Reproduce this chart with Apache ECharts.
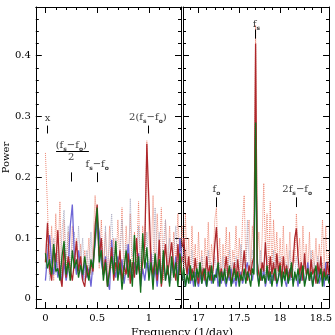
<!DOCTYPE html>
<html>
<head>
<meta charset="utf-8">
<script src="https://cdn.jsdelivr.net/npm/echarts@6/dist/echarts.min.js"></script>
<style>
html, body { margin: 0; padding: 0; background: #fff; }
#chart { width: 335px; height: 335px; }
</style>
</head>
<body>
<div id="chart"></div>
<script>
// frequency grids (1/day), sampled every 0.02
var leftStart = 0, rightStart = 16.8, step = 0.02;

// left panel: low frequencies 0 .. 1.32
var leftRedDotted = [
  0.24,0.15,0.04,0.12,0.03,0.14,0.05,0.16,0.02,0.13,
  0.05,0.11,0.03,0.12,0.06,0.1,0.04,0.09,0.03,0.08,
  0.05,0.1,0.04,0.09,0.17,0.12,0.05,0.13,0.04,0.11,
  0.03,0.12,0.05,0.1,0.04,0.13,0.06,0.15,0.03,0.12,
  0.05,0.14,0.04,0.11,0.06,0.16,0.03,0.12,0.07,0.26,
  0.1,0.05,0.17,0.04,0.14,0.06,0.15,0.03,0.13,0.05,
  0.12,0.04,0.11,0.06,0.14,0.05,0.12];
var leftGreyDotted = [
  0.05,0.09,0.03,0.07,0.1,0.04,0.08,0.03,0.11,0.146,
  0.06,0.12,0.05,0.09,0.11,0.04,0.12,0.06,0.1,0.03,
  0.08,0.05,0.11,0.04,0.09,0.13,0.06,0.1,0.04,0.12,
  0.05,0.09,0.14,0.06,0.1,0.04,0.08,0.13,0.05,0.09,
  0.03,0.165,0.07,0.1,0.04,0.12,0.06,0.09,0.05,0.11,
  0.04,0.08,0.06,0.15,0.05,0.11,0.04,0.09,0.13,0.05,
  0.1,0.03,0.08,0.12,0.05,0.1,0.07];
var leftRed = [
  0.06,0.125,0.05,0.03,0.085,0.06,0.113,0.04,0.02,0.09,
  0.035,0.07,0.05,0.03,0.06,0.095,0.045,0.07,0.03,0.02,
  0.055,0.035,0.06,0.045,0.12,0.155,0.07,0.1,0.04,0.065,
  0.02,0.05,0.085,0.03,0.06,0.045,0.08,0.03,0.055,0.04,
  0.075,0.025,0.06,0.035,0.1,0.05,0.03,0.06,0.09,0.255,
  0.16,0.06,0.04,0.07,0.03,0.097,0.02,0.05,0.09,0.04,
  0.065,0.093,0.05,0.03,0.09,0.04,0.07];
var leftBlue = [
  0.03,0.07,0.105,0.06,0.04,0.075,0.035,0.055,0.025,0.06,
  0.03,0.05,0.12,0.155,0.07,0.04,0.08,0.05,0.03,0.06,
  0.035,0.05,0.02,0.06,0.09,0.13,0.11,0.06,0.04,0.07,
  0.03,0.015,0.097,0.05,0.035,0.07,0.04,0.065,0.025,0.05,
  0.09,0.045,0.03,0.06,0.04,0.075,0.02,0.05,0.03,0.06,
  0.04,0.075,0.03,0.05,0.02,0.06,0.035,0.07,0.03,0.05,
  0.025,0.06,0.04,0.07,0.03,0.1,0.06];
var leftGreen = [
  0.075,0.05,0.065,0.04,0.09,0.045,0.05,0.03,0.07,0.095,
  0.04,0.06,0.03,0.08,0.05,0.065,0.035,0.055,0.04,0.07,
  0.045,0.03,0.065,0.05,0.1,0.15,0.06,0.08,0.03,0.06,
  0.02,0.045,0.07,0.04,0.095,0.03,0.06,0.015,0.05,0.08,
  0.035,0.065,0.02,0.105,0.04,0.07,0.01,0.108,0.05,0.085,
  0.03,0.06,0.015,0.075,0.04,0.065,0.025,0.08,0.03,0.055,
  0.02,0.07,0.035,0.06,0.02,0.075,0.04];

// right panel: 16.8 .. 18.6
var rightRedDotted = [
  0.12,0.05,0.14,0.04,0.1,0.03,0.12,0.05,0.09,0.03,
  0.11,0.04,0.08,0.03,0.1,0.05,0.126,0.04,0.09,0.06,
  0.13,0.15,0.05,0.1,0.03,0.09,0.05,0.118,0.04,0.11,
  0.03,0.08,0.06,0.12,0.04,0.1,0.05,0.13,0.17,0.06,
  0.1,0.13,0.05,0.12,0.08,0.45,0.07,0.11,0.04,0.1,
  0.19,0.08,0.14,0.05,0.16,0.04,0.13,0.06,0.11,0.04,
  0.1,0.05,0.12,0.03,0.09,0.05,0.11,0.04,0.08,0.06,
  0.14,0.07,0.1,0.03,0.12,0.05,0.09,0.04,0.11,0.03,
  0.08,0.05,0.1,0.04,0.09,0.06,0.13,0.05,0.12,0.04,
  0.08];
var rightGreyDotted = [
  0.05,0.03,0.07,0.04,0.06,0.03,0.08,0.04,0.05,0.03,
  0.06,0.04,0.07,0.03,0.05,0.04,0.08,0.03,0.06,0.04,
  0.07,0.05,0.04,0.06,0.03,0.07,0.04,0.05,0.03,0.08,
  0.04,0.06,0.03,0.07,0.05,0.04,0.09,0.05,0.07,0.04,
  0.13,0.06,0.05,0.08,0.06,0.3,0.07,0.05,0.08,0.04,
  0.06,0.03,0.07,0.04,0.05,0.03,0.08,0.04,0.06,0.03,
  0.07,0.04,0.05,0.03,0.06,0.04,0.08,0.03,0.05,0.04,
  0.07,0.05,0.04,0.06,0.03,0.07,0.04,0.05,0.03,0.08,
  0.04,0.06,0.03,0.07,0.05,0.04,0.06,0.03,0.05,0.04,
  0.06];
var rightRed = [
  0.085,0.1,0.06,0.04,0.07,0.03,0.05,0.035,0.067,0.04,
  0.025,0.06,0.035,0.05,0.03,0.07,0.04,0.055,0.03,0.05,
  0.09,0.118,0.06,0.035,0.05,0.03,0.045,0.07,0.035,0.05,
  0.025,0.04,0.06,0.03,0.065,0.04,0.03,0.05,0.08,0.045,
  0.03,0.055,0.04,0.06,0.07,0.42,0.06,0.04,0.03,0.06,
  0.045,0.093,0.05,0.035,0.07,0.04,0.06,0.03,0.075,0.045,
  0.06,0.03,0.07,0.04,0.055,0.03,0.05,0.035,0.06,0.1,
  0.116,0.07,0.04,0.06,0.03,0.075,0.04,0.05,0.03,0.065,
  0.04,0.05,0.025,0.06,0.04,0.07,0.03,0.05,0.035,0.06,
  0.04];
var rightBlue = [
  0.03,0.045,0.02,0.035,0.05,0.025,0.04,0.02,0.045,0.03,
  0.02,0.04,0.025,0.05,0.03,0.02,0.035,0.045,0.025,0.04,
  0.03,0.05,0.02,0.035,0.025,0.045,0.03,0.02,0.04,0.03,
  0.05,0.025,0.035,0.02,0.04,0.03,0.045,0.025,0.035,0.05,
  0.06,0.035,0.045,0.03,0.05,0.29,0.04,0.025,0.045,0.03,
  0.05,0.02,0.035,0.045,0.025,0.04,0.03,0.05,0.02,0.035,
  0.045,0.025,0.04,0.03,0.02,0.045,0.03,0.05,0.025,0.035,
  0.04,0.02,0.045,0.03,0.05,0.025,0.035,0.06,0.03,0.045,
  0.02,0.04,0.03,0.05,0.025,0.035,0.045,0.02,0.06,0.03,
  0.04];
var rightGreen = [
  0.03,0.05,0.02,0.04,0.025,0.055,0.03,0.045,0.02,0.05,
  0.035,0.06,0.025,0.04,0.05,0.02,0.045,0.03,0.055,0.025,
  0.04,0.035,0.06,0.02,0.045,0.03,0.05,0.025,0.04,0.055,
  0.02,0.035,0.05,0.03,0.045,0.02,0.04,0.03,0.05,0.025,
  0.045,0.035,0.02,0.05,0.04,0.29,0.045,0.02,0.05,0.03,
  0.04,0.025,0.055,0.03,0.045,0.02,0.04,0.05,0.025,0.035,
  0.055,0.02,0.045,0.03,0.05,0.025,0.04,0.06,0.02,0.045,
  0.03,0.05,0.025,0.04,0.055,0.02,0.035,0.05,0.03,0.045,
  0.02,0.04,0.055,0.025,0.035,0.05,0.02,0.045,0.03,0.04,
  0.025];

// annotations: [freq, power, rich text]
var leftLabels = [
  [0.02, 0.297, '{n|x}'],
  [0.25, 0.253, '{n|(f}{s|s}{n|−f}{s|o}{n|)}'],
  [0.25, 0.232, '{n|2}'],
  [0.50, 0.221, '{n|f}{s|s}{n|−f}{s|o}'],
  [0.99, 0.298, '{n|2(f}{s|s}{n|−f}{s|o}{n|)}']
];
var rightLabels = [
  [17.71, 0.452, '{n|f}{s|s}'],
  [17.22, 0.180, '{n|f}{s|o}'],
  [18.21, 0.180, '{n|2f}{s|s}{n|−f}{s|o}']
];
// marker bars: [freq, power from, power to]
var leftMarks = [[0.02, 0.272, 0.285], [0.25, 0.193, 0.208], [0.5, 0.192, 0.208], [0.99, 0.272, 0.285]];
var rightMarks = [[17.7, 0.428, 0.443], [17.22, 0.151, 0.167], [18.2, 0.151, 0.167]];
var fractionBar = [0.103, 0.42, 0.243];

var serif = 'DejaVu Serif';

function withFreq(start, vals) {
  return vals.map(function (v, i) { return [+(start + i * step).toFixed(2), v]; });
}

function line(idx, start, vals, color, width, dotted, z) {
  return {
    type: 'line', xAxisIndex: idx, yAxisIndex: idx,
    data: withFreq(start, vals),
    symbol: 'none', showSymbol: false, silent: true, z: z,
    lineStyle: { color: color, width: width, type: dotted ? 'dotted' : 'solid' }
  };
}

var rich = {
  n: { fontSize: 10, fontFamily: serif, color: '#000', lineHeight: 14 },
  s: { fontSize: 6, fontFamily: 'DejaVu Sans', fontWeight: 'bold', color: '#000', lineHeight: 6, verticalAlign: 'bottom' }
};

function notes(idx, labels, marks, extra) {
  var lines = marks.map(function (m) { return [{ coord: [m[0], m[1]] }, { coord: [m[0], m[2]] }]; });
  if (extra) lines.push([{ coord: [extra[0], extra[2]] }, { coord: [extra[1], extra[2]] }]);
  return {
    type: 'scatter', xAxisIndex: idx, yAxisIndex: idx, symbolSize: 0, silent: true, z: 20,
    data: labels.map(function (l) {
      return { value: [l[0], l[1]], label: { show: true, position: 'inside', formatter: l[2], rich: rich } };
    }),
    markLine: {
      silent: true, symbol: ['none', 'none'], animation: false,
      label: { show: false },
      lineStyle: { color: '#000', width: 1, type: 'solid' },
      emphasis: { disabled: true },
      data: lines
    }
  };
}

var tickStyle = { color: '#000', width: 1 };
function xAxis(grid, min, max, pos, labels) {
  return {
    type: 'value', gridIndex: grid, position: pos, min: min, max: max,
    splitNumber: 3, minInterval: 0.5, maxInterval: 0.5,
    axisLine: { onZero: false, lineStyle: tickStyle },
    axisTick: { inside: true, length: 6, lineStyle: tickStyle },
    minorTick: { show: true, splitNumber: 5, length: 3, lineStyle: tickStyle },
    splitLine: { show: false },
    axisLabel: { show: labels, showMinLabel: false, showMaxLabel: false, margin: 5,
      fontFamily: serif, fontSize: 10, color: '#000' }
  };
}
function yAxis(grid, pos, labels, name) {
  return {
    type: 'value', gridIndex: grid, position: pos, min: -0.015, max: 0.48,
    splitNumber: 5, minInterval: 0.1, maxInterval: 0.1,
    name: name || '', nameLocation: 'middle', nameGap: 22,
    nameTextStyle: { fontFamily: serif, fontSize: 10, color: '#000' },
    axisLine: { onZero: false, lineStyle: tickStyle },
    axisTick: { inside: true, length: 6, lineStyle: tickStyle },
    minorTick: { show: true, splitNumber: 5, length: 3, lineStyle: tickStyle },
    splitLine: { show: false },
    axisLabel: { show: labels, showMinLabel: false, showMaxLabel: false, margin: 5,
      fontFamily: serif, fontSize: 10, color: '#000' }
  };
}

var chart = echarts.init(document.getElementById('chart'), null, { renderer: 'canvas' });
chart.setOption({
  animation: false,
  backgroundColor: '#fff',
  grid: [
    { left: 31, top: 7, width: 150, height: 301 },
    { left: 183, top: 7, width: 149, height: 301 }
  ],
  xAxis: [
    xAxis(0, -0.093, 1.31, 'bottom', true),
    xAxis(0, -0.093, 1.31, 'top', false),
    xAxis(1, 16.81, 18.6, 'bottom', true),
    xAxis(1, 16.81, 18.6, 'top', false)
  ],
  yAxis: [
    yAxis(0, 'left', true, 'Power'),
    yAxis(0, 'right', false),
    yAxis(1, 'left', false),
    yAxis(1, 'right', false)
  ],
  series: [
    line(0, leftStart, leftRedDotted, '#ec8470', 1, true, 1),
    line(0, leftStart, leftGreyDotted, '#aaaac0', 1, true, 2),
    line(0, leftStart, leftBlue, '#6e66d6', 1.3, false, 3),
    line(0, leftStart, leftRed, '#ad272b', 1.3, false, 4),
    line(0, leftStart, leftGreen, '#15701b', 1.3, false, 5),
    line(2, rightStart, rightRedDotted, '#ec8470', 1, true, 1),
    line(2, rightStart, rightGreyDotted, '#aaaac0', 1, true, 2),
    line(2, rightStart, rightBlue, '#6e66d6', 1.3, false, 3),
    line(2, rightStart, rightRed, '#ad272b', 1.3, false, 4),
    line(2, rightStart, rightGreen, '#15701b', 1.3, false, 5),
    notes(0, leftLabels, leftMarks, fractionBar),
    notes(2, rightLabels, rightMarks)
  ],
  graphic: [{
    type: 'text', x: 182, y: 333,
    style: { text: 'Frequency (1/day)', fontFamily: serif, fontSize: 11, fill: '#000',
      textAlign: 'center', textVerticalAlign: 'middle' }
  }]
});
</script>
</body>
</html>
